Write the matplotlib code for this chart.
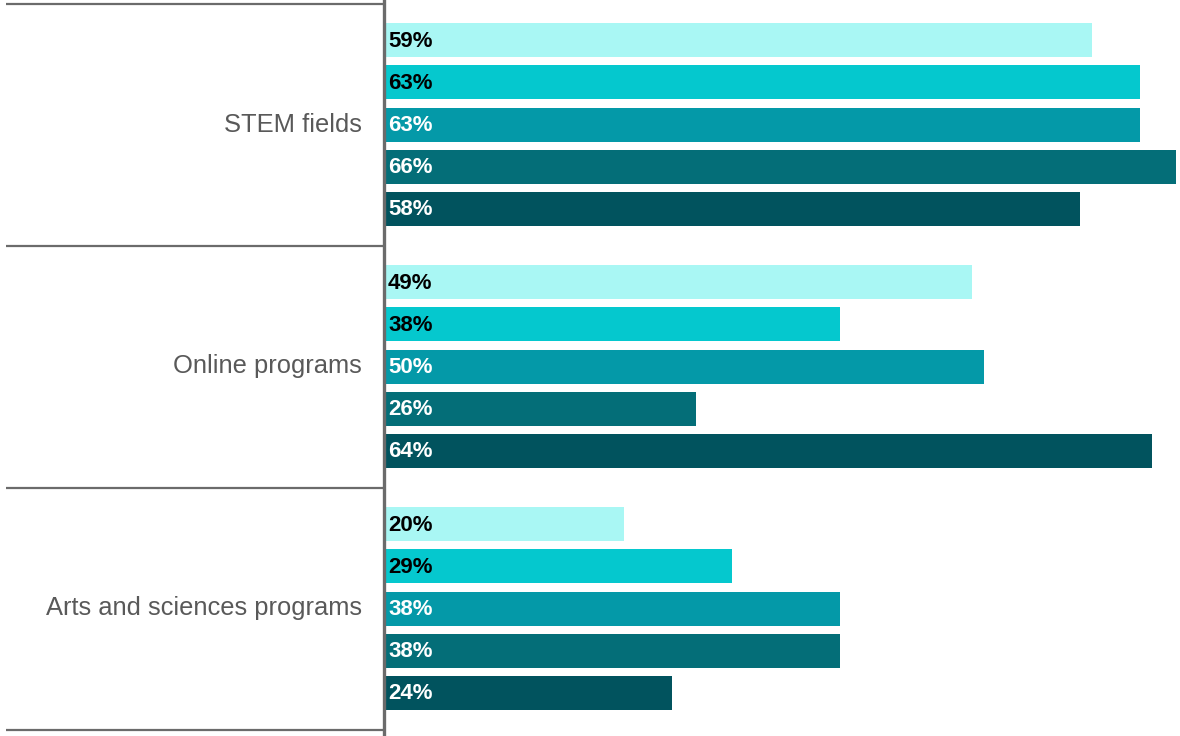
import numpy as np
import matplotlib.pyplot as plt
from matplotlib import transforms

plt.rcParams['font.family'] = ['Liberation Sans', 'DejaVu Sans']

categories = ["STEM fields", "Online programs", "Arts and sciences programs"]
series_1 = [59, 49, 20]
series_2 = [63, 38, 29]
series_3 = [63, 50, 38]
series_4 = [66, 26, 38]
series_5 = [58, 64, 24]

colors = ['#A9F7F4', '#05C8CE', '#0499A8', '#046E78', '#01535E']
text_colors = ['black', 'black', 'white', 'white', 'white']

W, H = 1180, 736
fig = plt.figure(figsize=(W / 100, H / 100), dpi=100)
left_px = 384
ax = fig.add_axes([left_px / W, 0, 1 - left_px / W, 1])

px_per_pct = 12
ax.set_xlim(0, (W - left_px) / px_per_pct)

# one group = 242 px, first group centred 124.5 px from the top
pitch = 242.0
top = 124.5
ax.set_ylim((H - top) / pitch, -top / pitch)

all_series = [series_1, series_2, series_3, series_4, series_5]
step = 42.2 / pitch
bar_h = 34 / pitch
y = np.arange(len(categories))
for k, (vals, c, tc) in enumerate(zip(all_series, colors, text_colors)):
    pos = y + (k - 2) * step
    ax.barh(pos, vals, height=bar_h, color=c, edgecolor='none')
    for p, v in zip(pos, vals):
        ax.annotate(f"{v}%", (0, p), xytext=(4, -1), textcoords='offset pixels',
                    ha='left', va='center', fontsize=16, fontweight='bold', color=tc)

# category labels and separators in the left margin
blend = transforms.blended_transform_factory(fig.transFigure, ax.transData)
for i, cat in enumerate(categories):
    ax.text(362 / W, i, cat, transform=blend, ha='right', va='center',
            fontsize=18.4, color='#595959')
for b in np.arange(len(categories) + 1) - 0.5:
    ax.plot([6 / W, left_px / W], [b, b], transform=blend, color='#6b6b6b',
            lw=1.6, clip_on=False, solid_capstyle='butt')

for s in ['top', 'right', 'bottom']:
    ax.spines[s].set_visible(False)
ax.spines['left'].set_color('#6b6b6b')
ax.spines['left'].set_linewidth(2.4)
ax.set_xticks([])
ax.set_yticks([])

fig.savefig('out.png', dpi=100)
